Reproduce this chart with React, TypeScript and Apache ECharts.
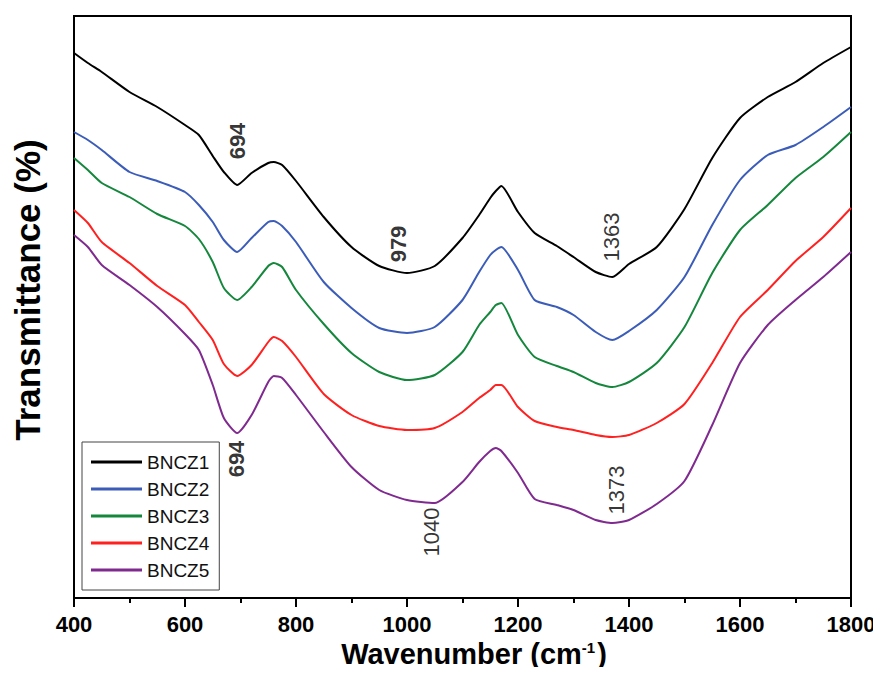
import React, { useEffect, useRef } from "react";
import * as echarts from "echarts";

const wavenumbers = [400, 425, 450, 500, 550, 600, 625, 650, 670, 694, 720, 750, 760, 775, 800, 850, 900, 950, 1000, 1050, 1100, 1130, 1150, 1160, 1170, 1200, 1230, 1270, 1300, 1340, 1370, 1400, 1450, 1500, 1550, 1600, 1650, 1700, 1750, 1800];

const bncz1 = [545, 535, 526, 506, 491, 473, 463, 442, 426, 413, 425, 435, 436, 433, 417, 381, 351, 332, 325, 332, 360, 383, 400, 407, 412, 386, 365, 352, 341, 326, 321, 334, 351, 389, 440, 480, 501, 516, 535, 551];
const bncz2 = [466, 458, 448, 426, 417, 406, 393, 376, 358, 346, 360, 376, 377, 372, 356, 316, 290, 270, 265, 271, 298, 326, 343, 348, 351, 328, 298, 291, 283, 266, 258, 267, 288, 321, 373, 418, 443, 453, 471, 491];
const bncz3 = [440, 428, 415, 401, 384, 372, 359, 336, 310, 298, 311, 332, 335, 331, 308, 274, 245, 226, 218, 223, 246, 273, 286, 293, 295, 263, 241, 232, 226, 215, 211, 216, 235, 271, 325, 368, 393, 420, 441, 466];
const bncz4 = [388, 375, 356, 335, 312, 293, 276, 258, 234, 222, 233, 256, 261, 257, 241, 204, 183, 172, 168, 170, 186, 200, 208, 213, 213, 191, 177, 171, 168, 163, 161, 163, 175, 194, 235, 281, 308, 337, 361, 390];
const bncz5 = [363, 351, 333, 313, 291, 264, 248, 213, 180, 165, 183, 216, 222, 220, 203, 166, 131, 108, 98, 95, 116, 136, 147, 150, 147, 125, 99, 93, 88, 78, 75, 78, 94, 117, 173, 235, 273, 298, 321, 346];

const seriesNames = ["BNCZ1", "BNCZ2", "BNCZ3", "BNCZ4", "BNCZ5"];
const seriesValues = [bncz1, bncz2, bncz3, bncz4, bncz5];
const seriesColors = ["#000000", "#3b5cb8", "#15873d", "#ff2020", "#7f2a8f"];

const xTicks = [400, 600, 800, 1000, 1200, 1400, 1600, 1800];

// peak annotations: label, wavenumber, transmittance, bold
const annoLabels = ["694", "979", "1363", "694", "1040", "1373"];
const annoX = [694, 984, 1368, 692, 1045, 1378];
const annoY = [457, 354, 361, 139, 66, 108];
const annoBold = [true, true, false, true, false, false];

export default function App() {
  const ref = useRef<HTMLDivElement>(null);
  useEffect(() => {
    if (!ref.current) return;
    const chart = echarts.init(ref.current, null, { renderer: "svg" });
    const font = "'Liberation Sans', Arial, sans-serif";
    const lineSeries = seriesNames.map((name, i) => ({
      name,
      type: "line",
      data: wavenumbers.map((w, j) => [w, seriesValues[i][j]]),
      symbol: "none",
      smooth: 0.2,
      lineStyle: { color: seriesColors[i], width: 2 },
      itemStyle: { color: seriesColors[i] },
      z: 3,
    }));
    const annoSeries = {
      name: "annotations",
      type: "scatter",
      silent: true,
      symbolSize: 0,
      data: annoLabels.map((t, i) => ({
        name: t,
        value: [annoX[i], annoY[i]],
        label: { fontWeight: annoBold[i] ? "bold" : "normal", color: "#000" },
      })),
      label: {
        show: true,
        position: "inside",
        rotate: 90,
        formatter: (p: any) => p.name,
        fontFamily: font,
        fontSize: 22,
        color: "#000",
      },
      z: 5,
    };
    chart.setOption({
      animation: false,
      backgroundColor: "#fff",
      grid: {
        left: 74,
        right: 30,
        top: 16,
        bottom: 77,
        show: true,
        borderColor: "#000",
        borderWidth: 2,
        backgroundColor: "transparent",
      },
      legend: {
        data: seriesNames,
        orient: "vertical",
        left: 82,
        top: 442,
        padding: [10, 10, 10, 9],
        icon: "rect",
        itemWidth: 51,
        itemHeight: 3,
        itemGap: 7,
        borderColor: "#444",
        borderWidth: 1,
        textStyle: { fontFamily: font, fontSize: 19, color: "#111", lineHeight: 20, height: 20 },
      },
      xAxis: {
        type: "value",
        min: 400,
        max: 1800,
        interval: 200,
        axisLine: { show: true, lineStyle: { color: "#000", width: 2 } },
        axisTick: { show: true, inside: false, length: 9, lineStyle: { color: "#000", width: 2 } },
        minorTick: { show: true, splitNumber: 2, length: 5, lineStyle: { color: "#000", width: 2 } },
        axisLabel: {
          fontFamily: font,
          fontSize: 22,
          fontWeight: "bold",
          color: "#000",
          margin: 15,
          formatter: (v: number) => (xTicks.includes(v) ? String(v) : ""),
        },
        splitLine: { show: false },
      },
      yAxis: {
        type: "value",
        min: 0,
        max: 582,
        axisLine: { show: true, lineStyle: { color: "#000", width: 2 } },
        axisTick: { show: false },
        axisLabel: { show: false },
        splitLine: { show: false },
      },
      graphic: [
        {
          type: "text",
          x: 27,
          y: 290,
          rotation: Math.PI / 2,
          style: {
            text: "Transmittance (%)",
            fontFamily: font,
            fontSize: 35,
            fontWeight: "bold",
            fill: "#000",
            align: "center",
            verticalAlign: "middle",
          },
        },
        {
          type: "text",
          x: 474,
          y: 654,
          style: {
            text: "{a|Wavenumber (cm}{s|-1}{a|)}",
            align: "center",
            verticalAlign: "middle",
            rich: {
              a: { fontFamily: font, fontSize: 29, fontWeight: "bold", fill: "#000", color: "#000" },
              s: { fontFamily: font, fontSize: 15, fontWeight: "bold", fill: "#000", color: "#000", verticalAlign: "top", padding: [0, 2, 10, 0] },
            },
          },
        },
      ],
      series: [...lineSeries, annoSeries],
    });
    return () => chart.dispose();
  }, []);
  return <div ref={ref} style={{ width: 881, height: 675, margin: -8 }} />;
}
